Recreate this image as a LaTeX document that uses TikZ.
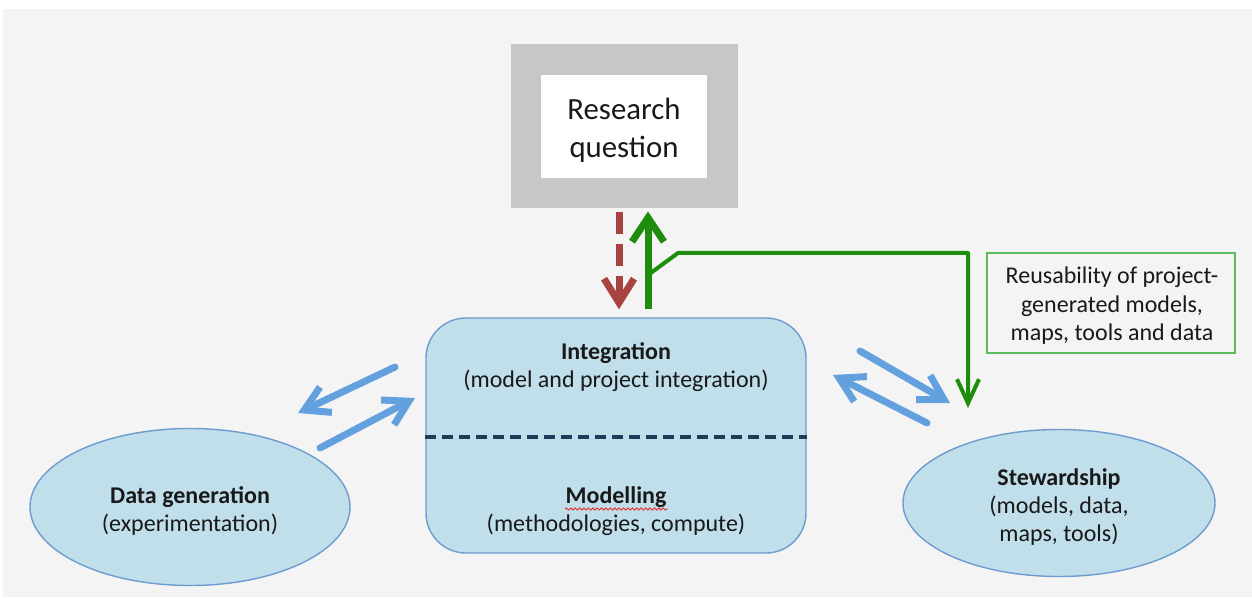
\documentclass[tikz,border=0pt]{standalone}
\usepackage{fontspec}
\setmainfont{Carlito}
\usetikzlibrary{arrows.meta,shapes.geometric,decorations.pathmorphing,calc}
\definecolor{bggray}{HTML}{F4F4F4}
\definecolor{boxgray}{HTML}{C7C7C7}
\definecolor{lblue}{HTML}{C1DFEB}
\definecolor{bborder}{HTML}{6E9BD0}
\definecolor{barrow}{HTML}{62A0DE}
\definecolor{garrow}{HTML}{1E8C0C}
\definecolor{gbox}{HTML}{5DB95A}
\definecolor{rarrow}{HTML}{A8443F}
\definecolor{navy}{HTML}{1F3B57}
\definecolor{spell}{HTML}{E03030}
\tikzset{
  bodytext/.style={font=\fontsize{12}{14.2}\selectfont, align=center, text=black!90},
  bubble/.style={ellipse, draw=bborder, line width=0.7pt, fill=lblue, inner sep=0pt},
  bluearrow/.style={draw=barrow, line width=3.5pt, line cap=round,
     -{Straight Barb[length=12pt,width=14pt]}},
}
\begin{document}
\begin{tikzpicture}[x=0.5pt,y=-0.5pt]
  \useasboundingbox (0,0) rectangle (1252,598);
  \fill[white] (0,0) rectangle (1252,598);
  \fill[bggray] (3,9) rectangle (1252,597);

  % research question
  \node[fill=boxgray, minimum width=113.5pt, minimum height=82pt, inner sep=0pt] (rq) at (624.5,126) {};
  \node[fill=white, minimum width=83pt, minimum height=51.5pt, inner sep=0pt] (rqin) at (624,127) {};
  \node[font=\fontsize{15.4}{19}\selectfont, align=center, text=black!90] (rqtext) at (624,130) {Research\\question};

  % integration / modelling box
  \node[draw=bborder, line width=0.7pt, fill=lblue, rounded corners=20pt,
        minimum width=190pt, minimum height=117.5pt, inner sep=0pt] (int) at (616,435.5) {};
  \node[bodytext] (inttext) at (616,367) {\textbf{Integration}\\(model and project integration)};
  \node[bodytext] (modtext) at (616,511) {\textbf{Modelling}\\(methodologies, compute)};
  \draw[navy, line width=1.8pt, dash pattern=on 5.5pt off 3pt] (int.west |- 0,437) -- (int.east |- 0,437);
  \draw[spell, line width=0.45pt, decorate, decoration={snake, amplitude=0.55pt, segment length=2.2pt}] (565,509) -- (668,509);

  % ellipses
  \node[bubble, minimum width=160pt, minimum height=78.5pt] (dg) at (190,507) {};
  \node[bodytext] (dgtext) at (190,511) {\textbf{Data generation}\\(experimentation)};
  \node[bubble, minimum width=156pt, minimum height=73.5pt] (st) at (1059,503) {};
  \node[bodytext] (sttext) at (1059,507) {\textbf{Stewardship}\\(models, data,\\maps, tools)};

  % reuse box
  \node[draw=gbox, line width=1pt, fill=bggray, minimum width=124pt, minimum height=50pt,
        inner sep=0pt] (reuse) at (1111,303) {};
  \node[bodytext] (reusetext) at (1112,306) {Reusability of project-\\generated models,\\maps, tools and data};

  % red dashed arrow
  \draw[rarrow, line width=3.5pt, dash pattern=on 11pt off 5pt,
        -{Straight Barb[length=12pt,width=15pt]}]
        ([xshift=-2.75pt,yshift=-2pt]rq.south) -- ([xshift=1.5pt,yshift=4pt]int.north);
  % green arrow up
  \draw[garrow, line width=3.5pt, -{Straight Barb[length=12pt,width=16pt]}]
        ([xshift=16pt,yshift=4pt]int.north) -- ([xshift=16pt,yshift=-1.5pt]rq.south -| int.north);
  \coordinate (gb) at (648,275);
  \coordinate (gend) at (968,408);
  \draw[garrow, line width=2pt, line join=round, -{Straight Barb[length=12pt,width=11pt]}]
        (gb) -- (678,253) -- (968,253) -- (gend);

  % blue arrows
  \coordinate (l1s) at (395,367); \coordinate (l1e) at (298,413);
  \coordinate (l2s) at (320,448); \coordinate (l2e) at (415,398);
  \coordinate (r1s) at (860,351); \coordinate (r1e) at (950,403);
  \coordinate (r2s) at (927,423); \coordinate (r2e) at (833,375);
  \draw[bluearrow] (l1s) -- (l1e);
  \draw[bluearrow] (l2s) -- (l2e);
  \draw[bluearrow] (r1s) -- (r1e);
  \draw[bluearrow] (r2s) -- (r2e);
\end{tikzpicture}
\end{document}
